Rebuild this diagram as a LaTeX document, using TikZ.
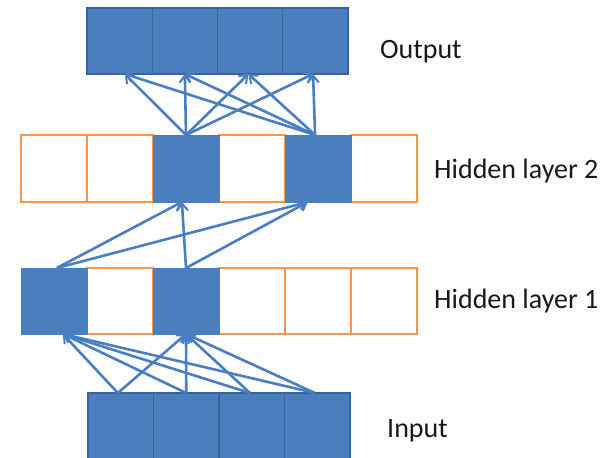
\documentclass[tikz,border=0pt]{standalone}
\usepackage{fontspec}
\setmainfont{Carlito}
\usetikzlibrary{arrows.meta}
\definecolor{boxblue}{HTML}{4A7EBE}
\definecolor{boxedge}{HTML}{36659C}
\definecolor{orangeedge}{HTML}{F79646}
\definecolor{arrowblue}{HTML}{4A7EC4}
\begin{document}
\begin{tikzpicture}[x=1pt,y=-1pt,
  cellbase/.style={rectangle, inner sep=0pt, outer sep=0pt},
  bluecell/.style={cellbase, fill=boxblue, draw=boxedge, line width=1.2pt},
  hidbluecell/.style={cellbase, fill=boxblue, draw=boxblue, line width=1pt},
  emptycell/.style={cellbase, fill=white, draw=orangeedge, line width=1.8pt},
  conn/.style={draw=arrowblue, line width=2.6pt, -{Straight Barb[length=7pt,width=11pt,line width=2pt]}},
  lbl/.style={inner sep=0pt, anchor=base west, text=black!90, font=\fontsize{28}{32}\selectfont}
]
\useasboundingbox (0,0) rectangle (608,458);
% Output layer
\foreach \i/\n in {0/o1,1/o2,2/o3,3/o4}
  \node[bluecell, minimum width=65.25pt, minimum height=66pt] (\n) at (87+65.25*\i+32.625, 41) {};
% Hidden layer 2
\foreach \i/\n in {0/h2a,1/h2b,3/h2d,5/h2f}
  \node[emptycell, minimum width=66pt, minimum height=67pt] (\n) at (21+66*\i+33, 168.5) {};
\foreach \i/\n in {2/h2c,4/h2e}
  \node[hidbluecell, minimum width=66pt, minimum height=67pt] (\n) at (21+66*\i+33, 168.5) {};
% Hidden layer 1
\foreach \i/\n in {1/h1b,3/h1d,4/h1e,5/h1f}
  \node[emptycell, minimum width=66pt, minimum height=66pt] (\n) at (21+66*\i+33, 301) {};
\foreach \i/\n in {0/h1a,2/h1c}
  \node[hidbluecell, minimum width=66pt, minimum height=66pt] (\n) at (21+66*\i+33, 301) {};
% Input layer
\foreach \i/\n in {0/i1,1/i2,2/i3,3/i4}
  \node[bluecell, minimum width=65.5pt, minimum height=66pt] (\n) at (88+65.5*\i+32.75, 426) {};
% Labels
\node[lbl] (lout) at (380,58) {Output};
\node[lbl] (lh2) at (434,178) {Hidden layer 2};
\node[lbl] (lh1) at (434,308) {Hidden layer 1};
\node[lbl] (lin) at (387,437) {Input};
% Input -> Hidden 1
\foreach \s/\a in {i1/95,i2/90,i3/93,i4/94}{
  \draw[conn] (\s.\a) -- (h1a.-75);
  \draw[conn] (\s.\a) -- (h1c.south);
}
% Hidden 1 -> Hidden 2
\foreach \s/\a in {h1a/85,h1c/90}{
  \draw[conn] (\s.\a) -- (h2c.-97);
  \draw[conn] (\s.\a) -- (h2e.-107);
}
% Hidden 2 -> Output
\foreach \s/\a in {h2c/90,h2e/95}{
  \draw[conn] (\s.\a) -- (o1.-81);
  \draw[conn] (\s.\a) -- (o2.south);
  \draw[conn] (\s.\a) -- (o3.-93);
  \draw[conn] (\s.\a) -- (o4.-94);
}
\end{tikzpicture}
\end{document}
